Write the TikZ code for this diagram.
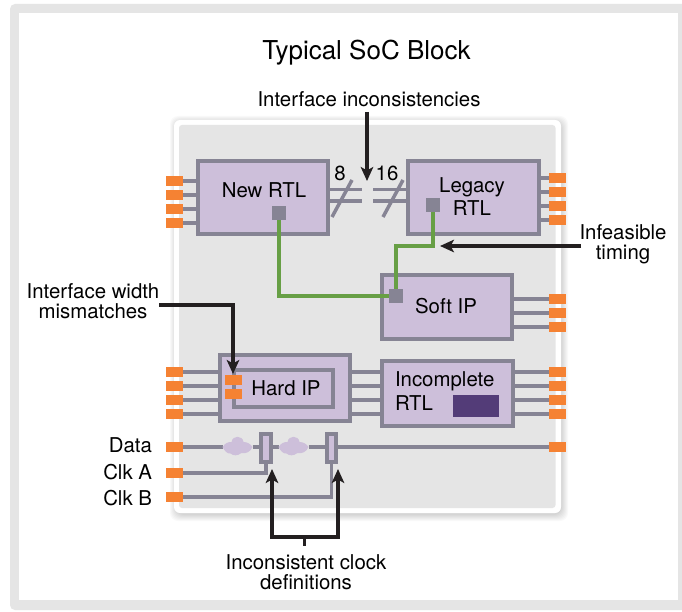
\documentclass[tikz,border=0pt]{standalone}
\usepackage{fontspec}
\setmainfont{TeX Gyre Heros}
\usetikzlibrary{arrows.meta}
\definecolor{orangeport}{HTML}{F58233}
\definecolor{lilac}{HTML}{CDBFDA}
\definecolor{wiregray}{HTML}{868494}
\definecolor{greenwire}{HTML}{679F45}
\definecolor{panelgray}{HTML}{E5E5E5}
\definecolor{callblack}{HTML}{231F20}
\definecolor{darkpurple}{HTML}{533C78}
\tikzset{
  x=1pt,y=-1pt,
  block/.style={draw=wiregray,fill=lilac,line width=4pt,inner sep=0pt,outer sep=0pt},
  port/.style={fill=orangeport,draw=none,minimum width=17pt,minimum height=10pt,inner sep=0pt,outer sep=0pt},
  sq/.style={fill=wiregray,draw=none,minimum width=14pt,minimum height=14pt,inner sep=0pt,outer sep=0pt},
  wire/.style={draw=wiregray,line width=3.5pt},
  gwire/.style={draw=greenwire,line width=3.4pt},
  txt/.style={font=\fontsize{20.4}{20}\selectfont,text=black,inner sep=0pt,outer sep=0pt,align=center},
  callout/.style={draw=callblack,line width=3.6pt,-{Stealth[length=14pt,width=12.5pt,inset=3.5pt]}},
  calloutb/.style={draw=callblack,line width=3.6pt,{Stealth[length=14pt,width=12.5pt,inset=3.5pt]}-{Stealth[length=14pt,width=12.5pt,inset=3.5pt]}},
  cloudnode/.style={draw=none,minimum width=30pt,minimum height=14pt,inner sep=0pt,outer sep=0pt},
  cloudpart/.style={fill=lilac,draw=none}
}
\begin{document}
\begin{tikzpicture}
\useasboundingbox (0,0) rectangle (682,612);
\clip (0,0) rectangle (682,612);
% page frame
\fill[white] (0,0) rectangle (682,612);
\fill[panelgray,rounded corners=5pt] (10,4) rectangle (695,610);
\fill[white] (18.5,13) rectangle (678,600);
% panel shadow
\foreach \o in {0,1,...,6}{
  \fill[black,opacity=0.022,rounded corners=8pt] (174-\o+2,120-\o+2) rectangle (561+\o+1,513+\o+2);
}
\fill[white,rounded corners=6pt] (174,120) rectangle (561,513);
\fill[panelgray,rounded corners=3pt] (179,125) rectangle (555.5,508);
% title
\node[txt,font=\fontsize{26}{26}\selectfont] (title) at (366.5,53) {Typical SoC Block};
\node[txt] (ii) at (369,99) {Interface inconsistencies};
\node[txt] (iwm) at (93,301) {Interface width\\mismatches};
\node[txt] (it) at (623,244) {Infeasible\\timing};
\node[txt] (icd) at (306,572) {Inconsistent clock\\definitions};
% blocks
\node[block,minimum width=130pt,minimum height=73pt] (newrtl) at (263,197.5) {};
\node[block,minimum width=131pt,minimum height=73pt] (legacy) at (473.5,197.5) {};
\node[block,minimum width=130pt,minimum height=64pt] (soft) at (447,307) {};
\node[block,minimum width=130pt,minimum height=66pt] (hard) at (285,388) {};
\node[block,minimum width=99pt,minimum height=37pt] (hardin) at (283.5,388.5) {};
\node[block,minimum width=131pt,minimum height=65pt] (incomp) at (447.5,393.5) {};
\node[fill=darkpurple,draw=none,minimum width=46pt,minimum height=22pt,inner sep=0pt] (tbd) at (476,406) {};
% block labels
\node[txt] (lnew) at (264,190) {New RTL};
\node[txt,font=\fontsize{20.4}{23}\selectfont] (lleg) at (472,196.5) {Legacy\\RTL};
\node[txt] (lsoft) at (446,306) {Soft IP};
\node[txt] (lhard) at (286,388) {Hard IP};
\node[txt,font=\fontsize{20.4}{24}\selectfont,align=left,anchor=west] (linc) at (395,391) {Incomplete\\RTL};
% ports and stubs
\foreach \i/\y in {1/181,2/195,3/209,4/223}{
  \node[port] (nl\i) at (174.5,\y) {};
  \draw[wire] (nl\i.east) -- (newrtl.west |- nl\i);
}
\foreach \i/\y in {1/178,2/192,3/206,4/220}{
  \node[port] (lr\i) at (557.5,\y) {};
  \draw[wire] (legacy.east |- lr\i) -- (lr\i.west);
}
\foreach \i/\y in {1/299,2/313,3/327}{
  \node[port] (sr\i) at (557.5,\y) {};
  \draw[wire] (soft.east |- sr\i) -- (sr\i.west);
}
\foreach \i/\y in {1/372,2/386,3/400,4/414}{
  \node[port] (hl\i) at (174.5,\y) {};
  \draw[wire] (hl\i.east) -- (hard.west |- hl\i);
  \node[port] (ir\i) at (557.5,\y) {};
  \draw[wire] (incomp.east |- ir\i) -- (ir\i.west);
  \draw[wire] (hard.east |- hl\i) -- (incomp.west |- hl\i);
}
\node[port] (hi1) at (233.5,380) {};
\node[port] (hi2) at (233.5,394) {};
% bus
\coordinate (ba1) at (362,189.5);
\coordinate (ba2) at (362,201);
\coordinate (bb1) at (373,189.5);
\coordinate (bb2) at (373,201);
\draw[wire] (newrtl.east |- ba1) -- (ba1);
\draw[wire] (newrtl.east |- ba2) -- (ba2);
\draw[wire] (bb1) -- (legacy.west |- bb1);
\draw[wire] (bb2) -- (legacy.west |- bb2);
\coordinate (s1a) at (332,217);
\coordinate (s1b) at (352,180);
\coordinate (s2a) at (383,217);
\coordinate (s2b) at (403,180);
\draw[wire] (s1a) -- (s1b);
\draw[wire] (s2a) -- (s2b);
\node[txt] (w8) at (340,173) {8};
\node[txt] (w16) at (387,173) {16};
% green wires
\node[sq] (sqnew) at (279,213) {};
\node[sq] (sqleg) at (433,205) {};
\node[sq] (sqsoft) at (396,296) {};
\draw[gwire] (sqnew.south) |- (sqsoft.west);
\draw[gwire] (sqleg.south) -- ++(0,34) -| (sqsoft.north);
% data chain
\node[port] (dl) at (174.5,447) {};
\node[port] (dr) at (557.5,447) {};
\node[port] (ca) at (174.5,473) {};
\node[port] (cb) at (174.5,497) {};
\node[block,minimum width=10pt,minimum height=28pt] (fuse1) at (266,448) {};
\node[block,minimum width=9pt,minimum height=28pt] (fuse2) at (331.5,448) {};
\node[cloudnode] (c1) at (237.5,447) {};
\node[cloudnode] (c2) at (293.5,447) {};
\draw[wire] (dl.east) -- (c1.west);
\draw[wire] (c1.east) -- (fuse1.west |- dl);
\draw[wire] (fuse1.east |- dl) -- (c2.west);
\draw[wire] (c2.east) -- (fuse2.west |- dl);
\draw[wire] (fuse2.east |- dl) -- (dr.west);
\foreach \n in {c1,c2}{
  \begin{scope}[shift={(\n)}]
    \fill[cloudpart] (-15,0) .. controls (-12,-4) and (-10,-5) .. (-6,-5)
      .. controls (-5,-12) and (5,-12) .. (6,-5)
      .. controls (10,-5) and (13,-3) .. (15,0)
      .. controls (13,5) and (8,7) .. (4,6)
      .. controls (0,9) and (-4,9) .. (-7,6.5)
      .. controls (-10,7) and (-13,4) .. (-15,0) -- cycle;
  \end{scope}
}
\draw[wire] (ca.east) -| (fuse1.south);
\draw[wire] (cb.east) -| (fuse2.south);
\node[txt,anchor=east] (ldata) at (152,445) {Data};
\node[txt,anchor=east] (lca) at (152,472) {Clk A};
\node[txt,anchor=east] (lcb) at (152,498) {Clk B};
% callouts
\coordinate (tipii) at (367,181);
\coordinate (srcii) at (367,112);
\draw[callout] (srcii) -- (tipii);
\coordinate (srcit) at (581,246);
\coordinate (tipit) at (440,246);
\draw[callout] (srcit) -- (tipit);
\coordinate (srciw) at (159,305);
\coordinate (tipiw) at (233,374);
\draw[callout] (srciw) -| (tipiw);
\coordinate (tipca) at (272,469);
\coordinate (tipcb) at (338,469);
\coordinate (brl) at (272,537);
\coordinate (brr) at (338,537);
\coordinate (stemtop) at (304.5,537);
\coordinate (stembot) at (304.5,546);
\draw[calloutb,line join=miter] (tipca) -- (brl) -- (brr) -- (tipcb);
\draw[draw=callblack,line width=3.6pt] (stemtop) -- (stembot);
\end{tikzpicture}
\end{document}
